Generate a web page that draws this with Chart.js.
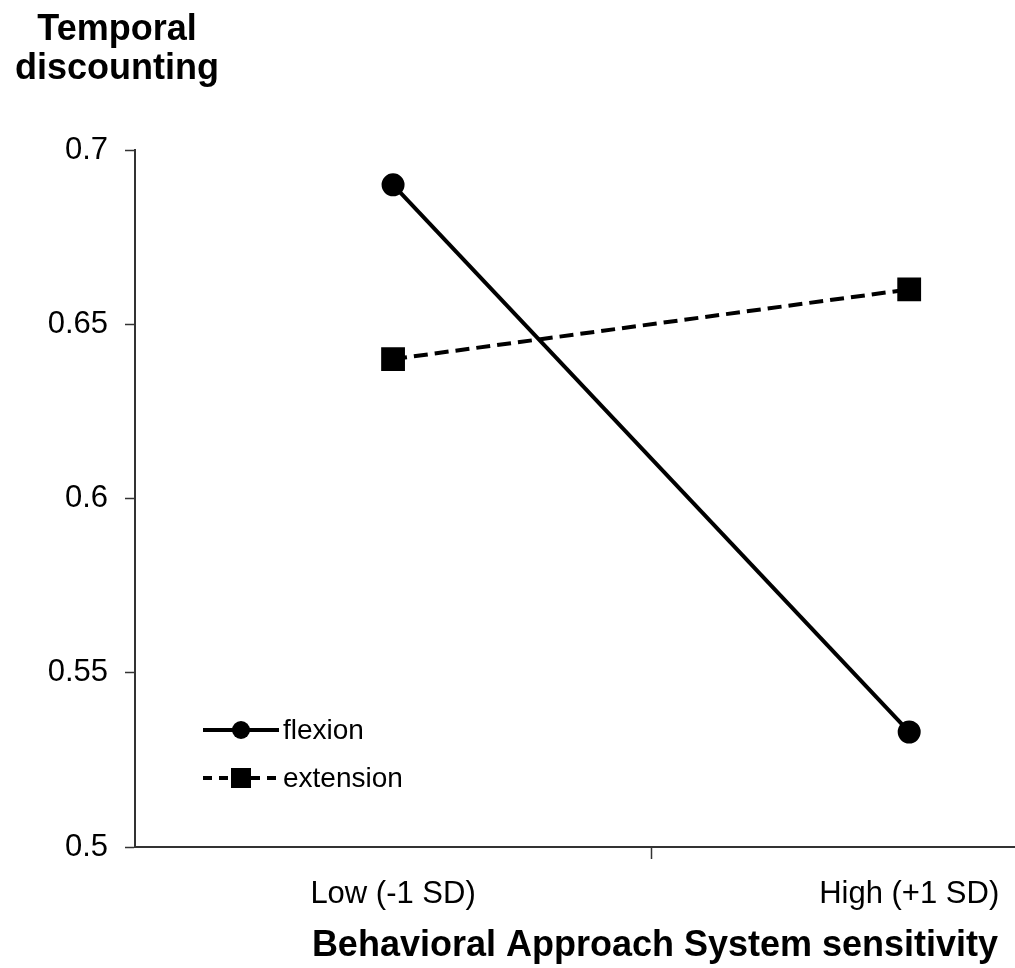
<!DOCTYPE html>
<html>
<head>
<meta charset="utf-8">
<script src="https://cdn.jsdelivr.net/npm/chart.js@4.4.1/dist/chart.umd.min.js"></script>
<style>
  html, body { margin: 0; background: #fff; overflow: hidden; }
  #wrap { width: 1015px; height: 968px; position: relative; }
  canvas { display: block; }
</style>
</head>
<body>
<div id="wrap"><canvas id="myChart"></canvas></div>
<script>
// categories and values
let categories = ['Low (-1 SD)', 'High (+1 SD)'];
let flexion = [0.69, 0.533];
let extension = [0.64, 0.66];
let yTicks = [0.5, 0.55, 0.6, 0.65, 0.7];
let yTickLabels = ['0.5', '0.55', '0.6', '0.65', '0.7'];
let yTitle = ['Temporal', 'discounting'];
let xTitle = 'Behavioral Approach System sensitivity';

let font = "'Liberation Sans', Arial, sans-serif";

// titles and the legend that sits inside the plot
let extras = {
  id: 'extras',
  afterDraw(chart) {
    let c = chart.ctx;
    let area = chart.chartArea;
    c.save();
    c.fillStyle = '#000';
    c.font = 'bold 36px ' + font;
    c.textAlign = 'center';
    c.textBaseline = 'alphabetic';
    c.fillText(yTitle[0], 117, 40);
    c.fillText(yTitle[1], 117, 79);
    c.fillText(xTitle, 655, 956);

    // legend
    let items = chart.data.datasets;
    items.forEach((ds, i) => {
      let y = area.bottom - 117 + i * 48;
      c.strokeStyle = '#000';
      c.lineWidth = 4;
      c.setLineDash(ds.borderDash ? [9, 7] : []);
      c.beginPath();
      c.moveTo(203, y);
      c.lineTo(279, y);
      c.stroke();
      c.setLineDash([]);
      c.fillStyle = '#000';
      if (ds.pointStyle === 'rect') {
        c.fillRect(231, y - 10, 20, 20);
      } else {
        c.beginPath();
        c.arc(241, y, 9, 0, Math.PI * 2);
        c.fill();
      }
      c.font = '28px ' + font;
      c.textAlign = 'left';
      c.textBaseline = 'middle';
      c.fillText(ds.label, 283, y + 1);
    });
    c.restore();
  }
};

let ctx = document.getElementById('myChart').getContext('2d');
new Chart(ctx, {
  type: 'line',
  data: {
    datasets: [{
      label: 'flexion',
      data: flexion.map((v, i) => ({ x: i, y: v })),
      borderColor: '#000',
      backgroundColor: '#000',
      borderWidth: 4,
      pointStyle: 'circle',
      pointRadius: 9.5,
      pointHoverRadius: 9.5,
      fill: false,
      tension: 0
    }, {
      label: 'extension',
      data: extension.map((v, i) => ({ x: i, y: v })),
      borderColor: '#000',
      backgroundColor: '#000',
      borderWidth: 4,
      borderDash: [14, 7],
      pointStyle: 'rect',
      pointRadius: 14,
      pointHoverRadius: 14,
      fill: false,
      tension: 0
    }]
  },
  options: {
    responsive: true,
    maintainAspectRatio: false,
    animation: false,
    layout: { autoPadding: false, padding: { top: 150, right: 0, bottom: 0, left: 0 } },
    plugins: {
      legend: { display: false },
      title: { display: false },
      tooltip: { enabled: false }
    },
    scales: {
      x: {
        type: 'linear',
        min: -0.5,
        max: 1.205,
        afterBuildTicks: (scale) => {
          scale.ticks = [{ value: 0 }, { value: 0.5 }, { value: 1 }];
        },
        afterFit: (scale) => {
          scale.height = 121;
          scale.paddingLeft = 0;
          scale.paddingRight = 0;
        },
        border: { color: '#333', width: 2 },
        grid: {
          drawOnChartArea: false,
          tickLength: 12,
          tickWidth: 1.5,
          color: (c) => (c.tick && c.tick.value === 0.5 ? '#333' : 'rgba(0,0,0,0)')
        },
        ticks: {
          autoSkip: false,
          maxRotation: 0,
          padding: 17,
          color: '#000',
          font: { family: font, size: 31 },
          callback: (v) => (v === 0 ? categories[0] : v === 1 ? categories[1] : '')
        }
      },
      y: {
        min: 0.5,
        max: 0.7,
        afterBuildTicks: (scale) => {
          scale.ticks = yTicks.map(v => ({ value: v }));
        },
        afterFit: (scale) => {
          scale.width = 135;
          scale.paddingTop = 0;
          scale.paddingBottom = 0;
        },
        border: { color: '#333', width: 2 },
        grid: {
          drawOnChartArea: false,
          tickLength: 10,
          tickWidth: 1.5,
          color: '#333'
        },
        ticks: {
          padding: 17,
          color: '#000',
          font: { family: font, size: 31 },
          callback: (v) => yTickLabels[yTicks.indexOf(v)]
        }
      }
    }
  },
  plugins: [extras]
});
</script>
</body>
</html>
